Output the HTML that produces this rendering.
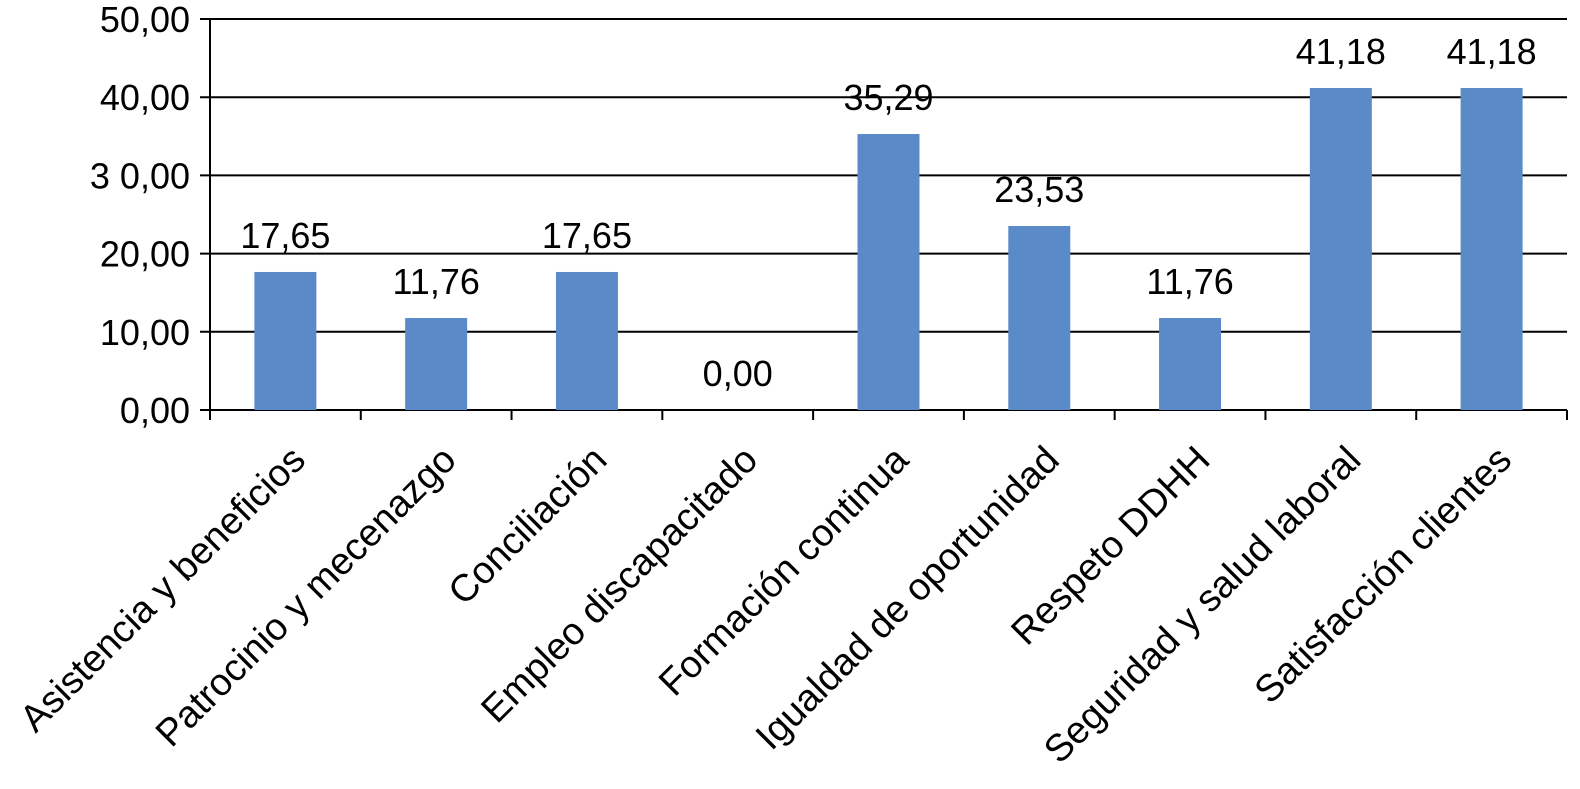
<!DOCTYPE html>
<html><head><meta charset="utf-8"><style>
body{margin:0;background:#fff;}
svg text{font-family:"Liberation Sans",Arial,sans-serif;fill:#000;}
</style></head><body>
<svg id="chart" width="1580" height="784"></svg>
<script>
const categories=["Asistencia y beneficios","Patrocinio y mecenazgo","Conciliación","Empleo discapacitado","Formación continua","Igualdad de oportunidad","Respeto DDHH","Seguridad y salud laboral","Satisfacción clientes"];
const values=[17.65,11.76,17.65,0.00,35.29,23.53,11.76,41.18,41.18];
const valueLabels=["17,65","11,76","17,65","0,00","35,29","23,53","11,76","41,18","41,18"];
const yTicks=[0,10,20,30,40,50];
const yTickLabels=["0,00","10,00","20,00","3 0,00","40,00","50,00"];
const NS="http://www.w3.org/2000/svg";
const svg=document.getElementById('chart');
const x0=210,x1=1567,yTop=19,yBot=410,yMax=50;
const y=v=>yBot-(v/yMax)*(yBot-yTop);
const bw=(x1-x0)/categories.length;
const xc=i=>x0+bw*(i+0.5);
function mk(t,a){const e=document.createElementNS(NS,t);for(const k in a)e.setAttribute(k,a[k]);svg.appendChild(e);return e;}
yTicks.forEach((t,i)=>{
  const g=mk('line',{x1:x0-10,x2:x1,y1:y(t),y2:y(t),stroke:'#000','stroke-width':2});
  
  
  const l=mk('text',{x:190,y:y(t)+13,'text-anchor':'end','font-size':36});
  l.textContent=yTickLabels[i];
  
  
});
const ax=mk('line',{x1:x0,x2:x0,y1:yTop,y2:yBot+10,stroke:'#000','stroke-width':2});


for(let i=0;i<=categories.length;i++){
  const t=mk('line',{x1:x0+bw*i,x2:x0+bw*i,y1:yBot,y2:yBot+10,stroke:'#000','stroke-width':2});
  
  
}
categories.forEach((c,i)=>{
  const h=yBot-y(values[i]);
  const r=mk('rect',{x:xc(i)-31,y:y(values[i]),width:62,height:h,fill:'#5a8bc8'});
  
  
  const v=mk('text',{x:xc(i),y:y(values[i])-24,'text-anchor':'middle','font-size':36});
  v.textContent=valueLabels[i];
  
  
  const cx=xc(i)+22,cy=462;
  const l=mk('text',{x:cx,y:cy,'text-anchor':'end','font-size':38,transform:`rotate(-45 ${cx} ${cy})`});
  l.textContent=c;
  
  
});
</script>
</body></html>
